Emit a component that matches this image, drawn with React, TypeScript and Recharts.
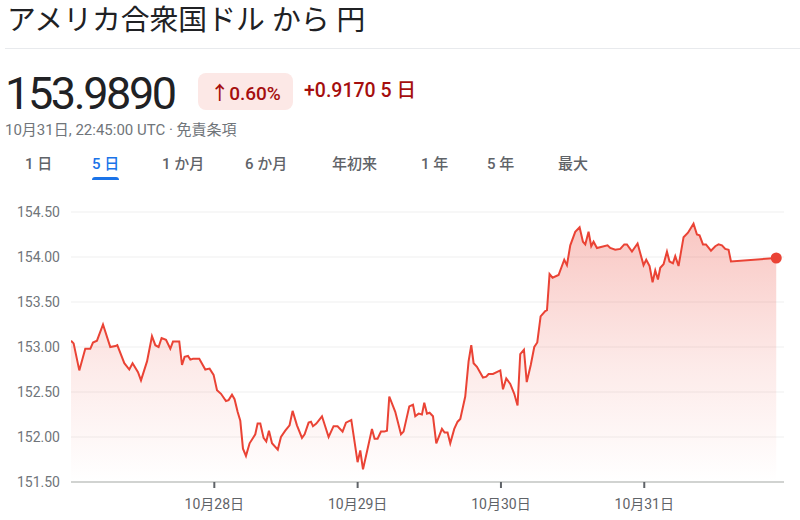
import React from "react";
import { ComposedChart, Area, XAxis, YAxis, CartesianGrid, ReferenceDot } from "recharts";

const hours = [0,0.44,1.39,2.39,3.23,3.68,4.35,5.36,6.58,7.42,7.75,8.93,9.76,10.31,11.22,11.72,12.73,13.56,14.12,14.67,15.17,15.91,16.63,17.08,18.13,18.59,19.02,19.59,19.98,20.43,21.48,22.49,23.21,23.88,24.45,25.12,25.95,26.39,26.96,27.39,27.9,28.35,28.8,29.3,29.91,30.58,30.86,31.25,31.7,32.25,32.7,33.15,33.66,34.63,35.16,35.88,36.6,37.11,37.84,38.68,39.12,39.79,40.19,40.52,41.08,42.03,43.14,43.97,44.64,45.48,46.05,46.94,47.32,47.99,48.44,48.9,49.67,50.4,50.84,51.34,51.91,52.46,52.91,53.3,54.3,55.26,55.69,56.65,57.27,57.65,58.21,58.77,59.16,59.61,60.05,60.62,61.17,62.12,62.56,63.06,63.51,64.18,64.74,65.19,66.02,66.58,67.03,67.42,67.98,68.99,69.54,69.93,70.66,71.89,72.34,72.89,73.56,74.23,74.78,75.23,75.85,76.32,76.99,77.58,78.08,78.64,79.42,79.71,80.14,80.64,81.65,82.6,83.05,83.61,84.44,85.17,85.73,86.12,86.67,87.12,87.51,88.08,89.85,90.3,91.14,91.98,92.65,93.1,93.94,94.88,95.88,96.33,96.89,97.39,97.84,98.29,98.68,99.23,99.8,100.23,100.8,101.19,101.74,102.58,103.32,104.25,104.82,105.26,105.83,106.33,107.17,107.89,108.44,109.01,109.56,110.12,110.52,118.1];

const rates = [153.07,153.04,152.74,152.98,152.98,153.05,153.07,153.25,153.00,153.01,153.02,152.82,152.75,152.82,152.72,152.63,152.84,153.12,153.02,153.00,153.10,153.08,152.98,153.06,153.06,152.80,152.89,152.90,152.86,152.87,152.87,152.75,152.76,152.69,152.52,152.48,152.40,152.41,152.47,152.42,152.28,152.18,151.87,151.79,151.93,152.00,152.03,152.15,152.15,151.99,151.95,152.07,151.93,151.86,152.00,152.07,152.13,152.29,152.13,151.99,152.03,152.16,152.17,152.12,152.15,152.23,152.00,152.12,152.12,152.06,152.16,152.19,152.02,151.72,151.85,151.64,151.87,152.09,151.98,151.98,152.06,152.06,152.07,152.45,152.28,152.03,152.06,152.34,152.36,152.23,152.26,152.25,152.38,152.26,152.27,152.23,151.93,152.09,152.05,152.05,151.93,152.09,152.17,152.20,152.45,152.84,153.02,152.82,152.78,152.66,152.67,152.70,152.70,152.74,152.53,152.65,152.59,152.48,152.35,152.92,152.97,152.61,152.80,153.00,153.05,153.34,153.40,153.41,153.81,153.77,153.80,153.97,153.91,154.13,154.28,154.33,154.17,154.14,154.28,154.12,154.17,154.10,154.13,154.10,154.08,154.09,154.14,154.14,154.06,154.15,153.91,153.97,153.90,153.72,153.85,153.75,153.88,153.92,154.06,153.95,153.93,154.01,153.90,154.22,154.27,154.37,154.25,154.24,154.14,154.14,154.07,154.12,154.14,154.13,154.09,154.08,153.95,153.989];

const xTicks = [24, 48, 72, 96];
const xTickLabels = ["10月28日", "10月29日", "10月30日", "10月31日"];
const yTicks = [151.5, 152, 152.5, 153, 153.5, 154, 154.5];
const tabs = ["1 日", "5 日", "1 か月", "6 か月", "年初来", "1 年", "5 年", "最大"];
const tabLefts = [25, 92, 162, 245, 332, 421, 487, 558];
const activeTab = 1;

const data = hours.map((h, i) => ({ h, v: rates[i] }));
const last = data[data.length - 1];

const RED = "#ea4335";
const SANS = "Roboto, 'Noto Sans CJK JP', sans-serif";

export default function App() {
  return (
    <div style={{ position: "absolute", left: 0, top: 0, width: 800, height: 520, background: "#fff", overflow: "hidden", fontFamily: SANS }}>
      <div style={{ position: "absolute", left: 7, top: 3, fontSize: 28.8, lineHeight: "34px", color: "#202124", whiteSpace: "nowrap" }}>
        アメリカ合衆国ドル から 円
      </div>
      <div style={{ position: "absolute", left: 5, right: 0, top: 48, height: 1, background: "#e8eaed" }} />
      <div style={{ position: "absolute", left: 5, top: 71, fontSize: 45, lineHeight: "45px", color: "#202124", letterSpacing: -2.4, whiteSpace: "nowrap" }}>
        153.9890
      </div>
      <div style={{ position: "absolute", left: 198, top: 73, width: 95, height: 37, borderRadius: 8, background: "#fce8e6", color: "#a50e0e", fontSize: 19, fontWeight: 500, display: "flex", alignItems: "center", justifyContent: "center", whiteSpace: "nowrap" }}>
        ↑0.60%
      </div>
      <div style={{ position: "absolute", left: 304, top: 81, fontSize: 19.5, lineHeight: "20px", fontWeight: 500, color: "#a50e0e", whiteSpace: "nowrap" }}>
        +0.9170 5 日
      </div>
      <div style={{ position: "absolute", left: 5, top: 123, fontSize: 15, lineHeight: "15px", color: "#70757a", whiteSpace: "nowrap" }}>
        10月31日, 22:45:00 UTC · 免責条項
      </div>
      {tabs.map((t, i) => (
        <div key={t} style={{ position: "absolute", left: tabLefts[i], top: 157, fontSize: 15, lineHeight: "15px", fontWeight: 500, color: i === activeTab ? "#1a73e8" : "#5f6368", whiteSpace: "nowrap" }}>
          {t}
          {i === activeTab && (
            <div style={{ position: "absolute", left: 0, right: 0, top: 20, height: 3, borderRadius: "3px 3px 0 0", background: "#1a73e8" }} />
          )}
        </div>
      ))}
      <div style={{ position: "absolute", left: 0, top: 0 }}>
        <ComposedChart width={800} height={520} data={data} margin={{ top: 212, right: 16, left: 0, bottom: 0 }}>
          <defs>
            <linearGradient id="fillRed" x1="0" y1="0" x2="0" y2="1">
              <stop offset="0%" stopColor={RED} stopOpacity={0.3} />
              <stop offset="55%" stopColor={RED} stopOpacity={0.11} />
              <stop offset="100%" stopColor={RED} stopOpacity={0} />
            </linearGradient>
          </defs>
          <CartesianGrid horizontal vertical={false} stroke="#efefef" strokeWidth={1} />
          <XAxis
            dataKey="h"
            type="number"
            domain={[0, 119.4]}
            ticks={xTicks}
            tickFormatter={(v: number) => xTickLabels[xTicks.indexOf(v)] ?? ""}
            height={38}
            axisLine={{ stroke: "#c4c7c5", strokeWidth: 1.5 }}
            tickLine={{ stroke: "#5f6368", strokeWidth: 2 }}
            tickSize={6}
            tickMargin={11}
            tick={{ fill: "#5f6368", fontSize: 14, fontFamily: SANS }}
            allowDataOverflow
          />
          <YAxis
            type="number"
            domain={[151.5, 154.5]}
            ticks={yTicks}
            width={71}
            axisLine={false}
            tickLine={false}
            tickSize={6}
            tickMargin={5}
            tickFormatter={(v: number) => v.toFixed(2)}
            tick={{ fill: "#70757a", fontSize: 14, fontFamily: SANS }}
            allowDataOverflow
          />
          <Area
            type="linear"
            dataKey="v"
            stroke={RED}
            strokeWidth={2}
            fill="url(#fillRed)"
            fillOpacity={1}
            dot={false}
            activeDot={false}
            isAnimationActive={false}
          />
          <ReferenceDot x={last.h} y={last.v} r={5.5} fill={RED} stroke="none" />
        </ComposedChart>
      </div>
    </div>
  );
}
